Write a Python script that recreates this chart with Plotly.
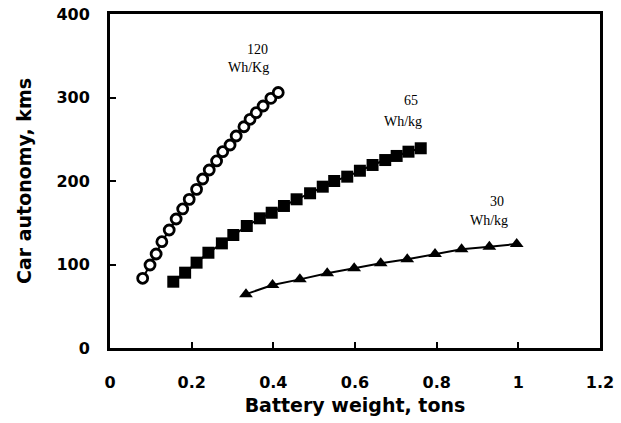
import plotly.graph_objects as go

# Battery weight (tons) and resulting car autonomy (km) for three specific energies
weight_120 = [0.080, 0.098, 0.113, 0.127, 0.145, 0.162, 0.178, 0.194, 0.212, 0.227, 0.243,
              0.261, 0.276, 0.294, 0.309, 0.328, 0.343, 0.358, 0.375, 0.394, 0.412]
autonomy_120 = [83.5, 99.4, 112.6, 127.3, 141.3, 154.5, 166.5, 178.0, 190.0, 202.4, 213.2,
                224.0, 235.1, 243.1, 253.9, 265.0, 273.9, 281.8, 289.8, 299.0, 306.0]

weight_65 = [0.155, 0.184, 0.212, 0.241, 0.274, 0.302, 0.335, 0.367, 0.396, 0.426, 0.457,
             0.490, 0.521, 0.549, 0.581, 0.612, 0.643, 0.674, 0.702, 0.731, 0.761]
autonomy_65 = [79.4, 90.2, 102.2, 114.1, 125.3, 135.3, 146.1, 155.3, 162.0, 170.1, 178.1,
               185.3, 193.2, 200.0, 205.2, 212.3, 219.2, 225.1, 230.0, 235.1, 239.2]

weight_30 = [0.333, 0.398, 0.465, 0.532, 0.598, 0.663, 0.728, 0.796, 0.861, 0.929, 0.996]
autonomy_30 = [64.5, 75.4, 82.2, 89.4, 95.4, 101.4, 106.2, 112.6, 118.2, 121.3, 124.6]

x_ticks = [0, 0.2, 0.4, 0.6, 0.8, 1.0, 1.2]
x_tick_labels = ["0", "0.2", "0.4", "0.6", "0.8", "1", "1.2"]
y_ticks = [0, 100, 200, 300, 400]

# Curve labels: (x, y, text)
curve_labels = [
    (0.360, 357, "120"), (0.340, 336, "Wh/Kg"),
    (0.737, 296, "65"), (0.718, 271, "Wh/kg"),
    (0.948, 175, "30"), (0.927, 153, "Wh/kg"),
]

fig = go.Figure()

fig.add_trace(go.Scatter(
    x=weight_120, y=autonomy_120, mode="lines+markers",
    line=dict(color="black", width=2),
    marker=dict(symbol="circle", size=10, color="white",
                line=dict(color="black", width=2.8)),
    showlegend=False,
))
fig.add_trace(go.Scatter(
    x=weight_65, y=autonomy_65, mode="lines+markers",
    line=dict(color="black", width=2),
    marker=dict(symbol="square", size=12, color="black"),
    showlegend=False,
))
fig.add_trace(go.Scatter(
    x=weight_30, y=autonomy_30, mode="lines+markers",
    line=dict(color="black", width=2),
    marker=dict(symbol="triangle-up", size=12, color="black"),
    showlegend=False,
))

for x, y, text in curve_labels:
    fig.add_annotation(x=x, y=y, text=text, showarrow=False,
                       font=dict(family="Liberation Serif", size=14, color="black"))

axis_font = dict(family="DejaVu Sans", size=16, color="black", weight="bold")
title_font = dict(family="DejaVu Sans", size=19, color="black", weight="bold")

fig.update_xaxes(
    range=[0, 1.2], tickvals=x_ticks, ticktext=x_tick_labels,
    showline=True, linecolor="black", linewidth=3, mirror=True,
    ticks="inside", ticklen=6, tickwidth=1.5, tickcolor="black",
    showgrid=False, zeroline=False, automargin=False,
    tickfont=axis_font, ticklabelstandoff=18,
    title=dict(text="Battery weight, tons", font=title_font, standoff=8),
)
fig.update_yaxes(
    range=[0, 400], tickvals=y_ticks,
    showline=True, linecolor="black", linewidth=3, mirror=True,
    ticks="inside", ticklen=6, tickwidth=1.5, tickcolor="black",
    showgrid=False, zeroline=False, automargin=False,
    tickfont=axis_font, ticklabelstandoff=14,
    title=dict(text="Car autonomy, kms", font=title_font, standoff=20),
)

fig.update_layout(
    width=621, height=423,
    margin=dict(l=110, r=21, t=14, b=75),
    plot_bgcolor="white", paper_bgcolor="white",
)

fig.write_html("out.html")
